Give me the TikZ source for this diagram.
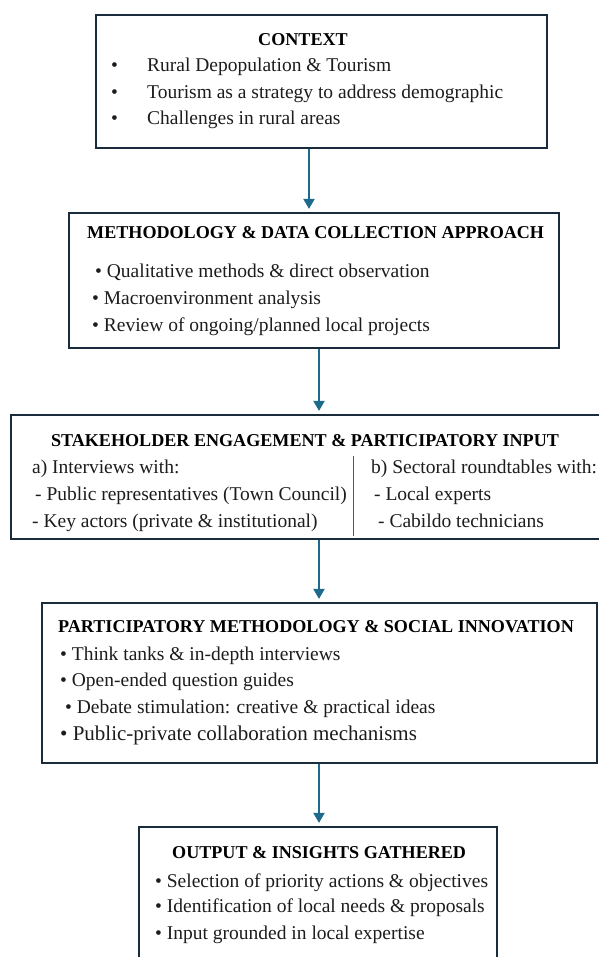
\documentclass[tikz,border=0pt]{standalone}
\usepackage{fontspec}
\setmainfont{Liberation Serif}
\usetikzlibrary{arrows.meta,positioning}
\definecolor{boxline}{HTML}{1A2B3C}
\definecolor{flowblue}{HTML}{1E6A8C}
\definecolor{inktext}{HTML}{1C1C1C}

\begin{document}
\begin{tikzpicture}[x=1pt, y=-1pt,
    box/.style={draw=boxline, line width=2.2pt, inner sep=0pt},
    flow/.style={draw=flowblue, line width=2pt, -{Triangle[width=11pt,length=10pt]}, shorten >=3pt},
    head/.style={font=\fontsize{18.1}{20}\selectfont\bfseries, anchor=base, inner sep=0pt},
    item/.style={font=\fontsize{19.5}{22}\selectfont, anchor=base west, inner sep=0pt, text=inktext}]
    \useasboundingbox (0,0) rectangle (598,957);

    % the five stages
    \node[box, minimum width=451pt, minimum height=133pt] (context) at (321.5,81.5) {};
    \node[box, minimum width=490pt, minimum height=135pt] (method) at (314,280.5) {};
    \node[box, minimum width=591pt, minimum height=124pt] (stake) at (306.5,477) {};
    \node[box, minimum width=555pt, minimum height=160pt] (partic) at (319.5,683) {};
    \node[box, minimum width=358pt, minimum height=140pt] (output) at (318,897) {};

    % arrows between stages
    \coordinate (leftaxis) at (309,0);
    \coordinate (mainaxis) at (319,0);
    \draw[flow] (context.south -| leftaxis) -- (method.north -| leftaxis);
    \draw[flow] (method.south -| mainaxis) -- (stake.north -| mainaxis);
    \draw[flow] (stake.south -| mainaxis) -- (partic.north -| mainaxis);
    \draw[flow] (partic.south -| mainaxis) -- (output.north -| mainaxis);

    % context
    \node[head] (contexthead) at (303,46) {CONTEXT};
    \node[item] (context1) at (111,72) {\makebox[36pt][l]{\textbullet}Rural Depopulation \& Tourism};
    \node[item] (context2) at (111,98.5) {\makebox[36pt][l]{\textbullet}Tourism as a strategy to address demographic};
    \node[item] (context3) at (111,125) {\makebox[36pt][l]{\textbullet}Challenges in rural areas};

    % methodology
    \node[head, anchor=base west] (methodhead) at (87,239) {METHODOLOGY \& DATA COLLECTION APPROACH};
    \node[item] (method1) at (95,277) {\textbullet\ Qualitative methods \& direct observation};
    \node[item] (method2) at (92,304) {\textbullet\ Macroenvironment analysis};
    \node[item] (method3) at (92,331) {\textbullet\ Review of ongoing/planned local projects};

    % stakeholders, two columns
    \node[head] (stakehead) at (305,446) {STAKEHOLDER ENGAGEMENT \& PARTICIPATORY INPUT};
    \draw[flowblue, line width=1pt] (353,456) -- (353,536);
    \node[item] (stakea) at (32,473) {a) Interviews with:};
    \node[item] (stakea1) at (35,500) {- Public representatives (Town Council)};
    \node[item] (stakea2) at (32,527) {- Key actors (private \& institutional)};
    \node[item] (stakeb) at (371,473) {b) Sectoral roundtables with:};
    \node[item] (stakeb1) at (374,500) {- Local experts};
    \node[item] (stakeb2) at (378,527) {- Cabildo technicians};

    % participatory methodology
    \node[head, anchor=base west] (partichead) at (58,632) {PARTICIPATORY METHODOLOGY \& SOCIAL INNOVATION};
    \node[item] (partic1) at (60,660) {\textbullet\ Think tanks \& in-depth interviews};
    \node[item] (partic2) at (60,686) {\textbullet\ Open-ended question guides};
    \node[item] (partic3) at (65,713) {\textbullet\ Debate stimulation: creative \& practical ideas};
    \node[item, font=\fontsize{21}{24}\selectfont] (partic4) at (60,740) {\textbullet\ Public-private collaboration mechanisms};

    % output
    \node[head, anchor=base west] (outputhead) at (172,858) {OUTPUT \& INSIGHTS GATHERED};
    \node[item] (output1) at (155,887) {\textbullet\ Selection of priority actions \& objectives};
    \node[item] (output2) at (155,912) {\textbullet\ Identification of local needs \& proposals};
    \node[item] (output3) at (155,939) {\textbullet\ Input grounded in local expertise};
\end{tikzpicture}
\end{document}
